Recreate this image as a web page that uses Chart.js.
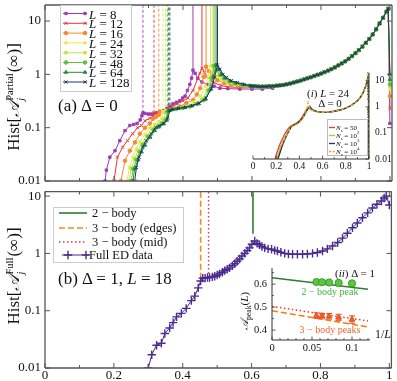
<!DOCTYPE html>
<html><head><meta charset="utf-8">
<script src="https://cdn.jsdelivr.net/npm/chart.js@4/dist/chart.umd.min.js"></script>
<style>
html,body{margin:0;padding:0;background:#fff;}
#wrap{position:relative;width:397px;height:381px;overflow:hidden;font-family:'Liberation Serif','DejaVu Serif',serif;color:#111;}
canvas{position:absolute;}
.t{position:absolute;white-space:nowrap;line-height:1;}
.c{transform:translate(-50%,-50%);}
.l{transform:translate(0,-50%);}
.rot{transform:translate(-50%,-50%) rotate(-90deg);}
.ss{display:inline-flex;flex-direction:column;vertical-align:middle;font-size:0.62em;line-height:1.05;margin:0 1px 0 0;}
.sc{font-family:'DejaVu Serif','DejaVu Sans',serif;font-style:italic;}
sub,sup{font-size:0.7em;line-height:0;}
</style></head>
<body>
<div id="wrap">
<canvas id="cTop" width="397" height="186" style="left:0;top:0"></canvas>
<canvas id="cBot" width="397" height="195" style="left:0;top:186px"></canvas>
<canvas id="cIn1" width="150" height="105" style="left:245px;top:65px"></canvas>
<canvas id="cIn2" width="135" height="100" style="left:240px;top:262px"></canvas>

<div class="t rot" style="left:15px;top:97px;font-size:17px">Hist[<span class="sc">𝒜</span><span class="ss"><span>Partial</span><span><i>j</i></span></span>(∞)]</div>
<div class="t rot" style="left:15px;top:276px;font-size:17px">Hist[<span class="sc">𝒜</span><span class="ss"><span>Full</span><span><i>j</i></span></span>(∞)]</div>
<div class="t l" style="left:58px;top:105px;font-size:17px">(a) Δ = 0</div>
<div class="t l" style="left:58px;top:278px;font-size:17px">(b) Δ = 1, <i>L</i> = 18</div>

<div class="t l" style="left:89px;top:13.5px;font-size:13px"><i>L</i> = 8</div>
<div class="t l" style="left:89px;top:23.3px;font-size:13px"><i>L</i> = 12</div>
<div class="t l" style="left:89px;top:33.1px;font-size:13px"><i>L</i> = 16</div>
<div class="t l" style="left:89px;top:42.9px;font-size:13px"><i>L</i> = 24</div>
<div class="t l" style="left:89px;top:52.7px;font-size:13px"><i>L</i> = 32</div>
<div class="t l" style="left:89px;top:62.5px;font-size:13px"><i>L</i> = 48</div>
<div class="t l" style="left:89px;top:72.3px;font-size:13px"><i>L</i> = 64</div>
<div class="t l" style="left:89px;top:82px;font-size:13px"><i>L</i> = 128</div>

<div class="t l" style="left:92px;top:213px;font-size:12.5px">2 − body</div>
<div class="t l" style="left:92px;top:228px;font-size:12.5px">3 − body (edges)</div>
<div class="t l" style="left:92px;top:242px;font-size:12.5px">3 − body (mid)</div>
<div class="t l" style="left:89px;top:255px;font-size:12.5px">Full ED data</div>

<div class="t c" style="left:328px;top:93px;font-size:11px">(<i>i</i>) <i>L</i> = 24</div>
<div class="t c" style="left:330px;top:102.5px;font-size:11px">Δ = 0</div>
<div class="t l" style="left:336px;top:127.5px;font-size:7px"><i>N</i><sub>s</sub> = 50</div>
<div class="t l" style="left:336px;top:135.5px;font-size:7px"><i>N</i><sub>s</sub> = 10<sup>2</sup></div>
<div class="t l" style="left:336px;top:143.5px;font-size:7px"><i>N</i><sub>s</sub> = 10<sup>3</sup></div>
<div class="t l" style="left:336px;top:151.5px;font-size:7px"><i>N</i><sub>s</sub> = 10<sup>4</sup></div>

<div class="t c" style="left:355px;top:273px;font-size:11px">(<i>ii</i>) Δ = 1</div>
<div class="t c" style="left:330px;top:292px;font-size:10px;color:#3cb43c">2 − body peak</div>
<div class="t c" style="left:330px;top:330px;font-size:10px;color:#f0642a">3 − body peaks</div>
<div class="t rot" style="left:244px;top:311px;font-size:11px"><span class="sc">𝒜</span><sub>peak</sub>(<i>L</i>)</div>
<div class="t c" style="left:383px;top:334px;font-size:12px">1/<i>L</i></div>
</div>

<script>
// ---------------- DATA ----------------
const LValues = [8, 12, 16, 24, 32, 48, 64, 128];
// panel (a): rising part and first peak for each L
const L8X = [0.174,0.178,0.188,0.203,0.217,0.232,0.246,0.257,0.267,0.276,0.281,0.284,0.29,0.299,0.306,0.313,0.323,0.333,0.344,0.354,0.362,0.371,0.381,0.391,0.399,0.406,0.413,0.42,0.425,0.429,0.435,0.443,0.455,0.47,0.49,0.507,0.53,0.565,0.6,0.63,0.66];
const L8Y = [0.01,0.016,0.028,0.037,0.057,0.088,0.11,0.115,0.12,0.14,0.167,0.19,0.185,0.18,0.18,0.18,0.19,0.2,0.21,0.23,0.25,0.28,0.3,0.32,0.36,0.39,0.5,0.65,0.85,1.2,1.05,0.84,0.72,0.65,0.6,0.55,0.54,0.53,0.53,0.53,0.55];
const L12X = [0.2,0.21,0.225,0.239,0.254,0.268,0.28,0.29,0.304,0.313,0.316,0.325,0.339,0.354,0.368,0.383,0.4,0.414,0.429,0.443,0.449,0.455,0.462,0.47,0.48,0.49,0.51,0.53,0.56,0.58];
const L12Y = [0.01,0.028,0.043,0.057,0.077,0.1,0.11,0.135,0.15,0.165,0.19,0.19,0.2,0.23,0.25,0.28,0.32,0.36,0.5,0.84,1.05,1.3,1.1,0.9,0.78,0.7,0.62,0.58,0.57,0.58];
const L16X = [0.22,0.232,0.246,0.261,0.275,0.29,0.304,0.313,0.322,0.33,0.333,0.345,0.36,0.375,0.391,0.41,0.429,0.44,0.45,0.46,0.467,0.475,0.485,0.5,0.52,0.54,0.56,0.58];
const L16Y = [0.01,0.024,0.037,0.053,0.077,0.1,0.12,0.147,0.16,0.175,0.2,0.2,0.21,0.23,0.25,0.29,0.33,0.42,0.55,0.9,1.4,1.15,0.95,0.78,0.68,0.63,0.61,0.6];
const L24X = [0.238,0.245,0.255,0.265,0.275,0.29,0.304,0.318,0.33,0.338,0.342,0.35,0.37,0.39,0.41,0.43,0.45,0.465,0.473,0.48,0.49,0.5,0.51,0.53,0.55,0.57,0.59];
const L24Y = [0.01,0.018,0.028,0.04,0.055,0.075,0.1,0.115,0.13,0.15,0.2,0.21,0.22,0.23,0.25,0.3,0.39,0.6,0.9,1.45,1.1,0.9,0.8,0.69,0.64,0.62,0.6];
const L32X = [0.244,0.25,0.26,0.27,0.28,0.295,0.31,0.323,0.335,0.345,0.35,0.36,0.375,0.395,0.415,0.435,0.455,0.47,0.48,0.487,0.495,0.505,0.515,0.53,0.55,0.57,0.59];
const L32Y = [0.01,0.017,0.026,0.037,0.05,0.07,0.095,0.11,0.125,0.145,0.2,0.21,0.22,0.23,0.25,0.28,0.34,0.5,0.85,1.45,1.15,0.95,0.82,0.72,0.66,0.63,0.61];
const L48X = [0.25,0.256,0.265,0.275,0.285,0.3,0.315,0.328,0.34,0.35,0.355,0.365,0.38,0.4,0.42,0.44,0.46,0.475,0.484,0.49,0.498,0.508,0.52,0.535,0.55,0.57,0.59];
const L48Y = [0.01,0.017,0.025,0.035,0.048,0.068,0.09,0.105,0.12,0.14,0.2,0.215,0.225,0.235,0.25,0.28,0.33,0.5,0.85,1.45,1.2,0.98,0.84,0.74,0.68,0.64,0.61];
const L64X = [0.255,0.26,0.27,0.28,0.29,0.305,0.318,0.33,0.343,0.353,0.358,0.368,0.385,0.405,0.425,0.445,0.465,0.48,0.489,0.496,0.503,0.512,0.522,0.538,0.555,0.575,0.595];
const L64Y = [0.01,0.017,0.025,0.035,0.047,0.066,0.088,0.103,0.118,0.138,0.21,0.22,0.23,0.24,0.255,0.28,0.34,0.52,0.9,1.5,1.25,1.0,0.86,0.75,0.69,0.64,0.61];
const L128X = [0.26,0.265,0.273,0.283,0.293,0.308,0.32,0.333,0.345,0.356,0.362,0.37,0.387,0.407,0.427,0.447,0.467,0.483,0.492,0.5,0.507,0.516,0.526,0.54,0.558,0.578,0.598];
const L128Y = [0.01,0.018,0.028,0.043,0.057,0.077,0.1,0.11,0.12,0.15,0.21,0.22,0.23,0.24,0.26,0.29,0.36,0.55,0.9,1.5,1.25,1.0,0.88,0.76,0.7,0.65,0.61];
// common U-shaped tail (all L coincide)
const tailX = [0.6,0.61,0.62,0.63,0.64,0.65,0.66,0.67,0.68,0.69,0.7,0.71,0.72,0.73,0.74,0.75,0.76,0.77,0.78,0.79,0.8,0.81,0.82,0.83,0.84,0.85,0.86,0.87,0.88,0.89,0.9,0.91,0.92,0.93,0.94,0.95,0.96,0.97,0.98,0.99,0.995];
const tailY = [0.6,0.6,0.59,0.59,0.59,0.6,0.6,0.61,0.62,0.63,0.65,0.67,0.7,0.73,0.76,0.8,0.84,0.88,0.93,0.98,1.03,1.1,1.17,1.25,1.35,1.47,1.6,1.75,1.95,2.2,2.5,2.85,3.3,3.9,4.6,5.6,7,9,11.5,15,17];
const endX = 1.0;
const endY = [0.12,0.23,0.39,0.52,0.6,0.65,0.8,1.0];
// vertical lines (delta peaks) in panel (a)
const dashX = [0.284,0.316,0.33,0.342,0.35,0.355,0.358,0.362];
const dashY = [0.19,0.19,0.2,0.2,0.2,0.2,0.21,0.21];
const peakX = [0.429,0.455,0.467,0.48,0.487,0.49,0.496,0.5];
const peakY = [1.2,1.3,1.4,1.45,1.45,1.45,1.5,1.5];

// panel (b): full ED data, Delta=1, L=18
const fullX = [0.30,0.31,0.324,0.338,0.348,0.362,0.372,0.382,0.396,0.41,0.425,0.435,0.445,0.452,0.458,0.465,0.472,0.478,0.486,0.493,0.5,0.507,0.515,0.522,0.529,0.536,0.544,0.551,0.558,0.565,0.572,0.58,0.587,0.594,0.601,0.609,0.616,0.623,0.63,0.638,0.648,0.658,0.667,0.675,0.685,0.696,0.707,0.719,0.733,0.748,0.762,0.777,0.791,0.806,0.82,0.835,0.85,0.864,0.878,0.893,0.907,0.922,0.937,0.951,0.964,0.977,0.985,0.991,1.0];
const fullY = [0.01,0.017,0.025,0.027,0.04,0.05,0.062,0.078,0.09,0.11,0.15,0.18,0.25,0.33,0.37,0.37,0.38,0.38,0.39,0.4,0.42,0.44,0.47,0.5,0.53,0.56,0.61,0.66,0.73,0.8,0.9,1.0,1.12,1.25,1.45,1.65,1.5,1.42,1.32,1.25,1.2,1.18,1.13,1.1,1.05,1.0,0.98,0.97,0.97,0.97,0.98,1.0,1.04,1.1,1.2,1.35,1.55,1.85,2.25,2.8,3.4,4.2,5.1,6.2,7.2,8.2,9.3,10,7];
const twoBodyX = 0.604, twoBodyY = 2.2;
const edgeX = 0.452, edgeY = 0.36;
const midX = 0.475, midY = 0.38;

// inset (i): L=24 for several N_s
const ns50X = [0.19,0.21,0.23,0.25,0.27,0.29,0.31,0.33,0.35,0.37,0.39,0.41,0.43,0.45,0.465,0.48,0.5,0.52,0.55];
const ns50Y = [0.01,0.02,0.035,0.055,0.085,0.12,0.16,0.19,0.21,0.23,0.27,0.33,0.45,0.65,0.85,0.9,0.8,0.72,0.66];
const ns100X = [0.205,0.22,0.24,0.26,0.28,0.3,0.32,0.34,0.36,0.38,0.4,0.42,0.44,0.46,0.475,0.49,0.5,0.52,0.55];
const ns100Y = [0.01,0.016,0.03,0.048,0.075,0.11,0.15,0.19,0.21,0.22,0.26,0.32,0.45,0.7,0.95,0.92,0.82,0.72,0.66];
const ns1000X = [0.215,0.23,0.25,0.27,0.29,0.31,0.33,0.35,0.37,0.39,0.41,0.43,0.45,0.47,0.49,0.5,0.52,0.55];
const ns1000Y = [0.01,0.016,0.03,0.05,0.08,0.12,0.17,0.2,0.22,0.25,0.3,0.4,0.55,0.8,1.05,0.9,0.75,0.67];
const ns10000X = [0.2,0.22,0.24,0.26,0.28,0.3,0.32,0.34,0.36,0.38,0.4,0.42,0.44,0.455,0.465,0.475,0.485,0.5,0.52,0.55];
const ns10000Y = [0.01,0.018,0.03,0.045,0.07,0.1,0.14,0.18,0.2,0.22,0.26,0.32,0.45,0.6,0.9,1.45,0.95,0.8,0.72,0.66];
const insetTailX = [0.6,0.65,0.7,0.75,0.8,0.85,0.9,0.93,0.95,0.97,0.98,0.99,0.995,0.999];
const insetTailY = [0.62,0.63,0.68,0.76,0.9,1.15,1.7,2.5,3.6,6,8.5,13,17,0.01];

// inset (ii): peak positions vs 1/L
const invL = [0.0556,0.0625,0.0714,0.0833,0.1];
const peak2 = [0.609,0.608,0.607,0.605,0.603];
const peak2Err = [0.006,0.006,0.006,0.006,0.006];
const peak3 = [0.463,0.461,0.46,0.455,0.446];
const peak3Err = [0.012,0.012,0.012,0.014,0.016];
const fitX = [0, 0.12];
const fit2Y = [0.628, 0.578];
const fitMidY = [0.503, 0.44];
const fitEdgeY = [0.484, 0.414];

// tick labels
const mainXTicks = [0, 0.2, 0.4, 0.6, 0.8, 1];
const mainXMinor = [0.1, 0.3, 0.5, 0.7, 0.9];
const logTicks = [0.01, 0.1, 1, 10];
const in2XTicks = [0, 0.05, 0.1];
const in2YTicks = [0.4, 0.5, 0.6];

// ---------------- RENDERING ----------------
const serif = "'Liberation Serif','Times New Roman',serif";
Chart.defaults.font.family = serif;
Chart.defaults.color = '#111';

const pts = (xs, ys) => { const n = Math.min(xs.length, ys.length), o = []; for (let i = 0; i < n; i++) o.push({x: xs[i], y: ys[i]}); return o; };
const noPad = s => { s.paddingLeft = 0; s.paddingRight = 0; s.paddingTop = 0; s.paddingBottom = 0; };
const logMinor = [];
[0.01, 0.1, 1, 10].forEach(d => { for (let k = 2; k <= 9; k++) { const v = +(d * k).toPrecision(3); if (v <= 20) logMinor.push(v); } });

const frameTicks = {
  id: 'frameTicks',
  afterDatasetsDraw(chart, args, o) {
    if (!o || !o.lines) return;
    const {ctx, chartArea: a} = chart; const sx = chart.scales.x, sy = chart.scales.y;
    ctx.save(); ctx.setLineDash([]); ctx.strokeStyle = o.color;
    ctx.lineWidth = o.tickWidth; ctx.beginPath();
    const xt = (vals, len) => vals.forEach(v => { const p = sx.getPixelForValue(v);
      if (o.xSides.includes('bottom')) { ctx.moveTo(p, a.bottom); ctx.lineTo(p, a.bottom - len); }
      if (o.xSides.includes('top')) { ctx.moveTo(p, a.top); ctx.lineTo(p, a.top + len); } });
    const yt = (vals, len) => vals.forEach(v => { const p = sy.getPixelForValue(v);
      if (o.ySides.includes('left')) { ctx.moveTo(a.left, p); ctx.lineTo(a.left + len, p); }
      if (o.ySides.includes('right')) { ctx.moveTo(a.right, p); ctx.lineTo(a.right - len, p); } });
    xt(o.xMajor || [], o.majLen); xt(o.xMinor || [], o.minLen);
    yt(o.yMajor || [], o.majLen); yt(o.yMinor || [], o.minLen);
    ctx.stroke();
    ctx.lineWidth = o.lineWidth; ctx.beginPath();
    o.lines.forEach(s => {
      if (s === 'left') { ctx.moveTo(a.left, a.top); ctx.lineTo(a.left, a.bottom); }
      if (s === 'right') { ctx.moveTo(a.right, a.top); ctx.lineTo(a.right, a.bottom); }
      if (s === 'top') { ctx.moveTo(a.left, a.top); ctx.lineTo(a.right, a.top); }
      if (s === 'bottom') { ctx.moveTo(a.left, a.bottom); ctx.lineTo(a.right, a.bottom); }
    });
    ctx.stroke(); ctx.restore();
  }
};

const legendSamples = {
  id: 'legendSamples',
  afterDraw(chart, args, o) {
    if (!o || !o.items) return;
    const ctx = chart.ctx; ctx.save();
    if (o.box) { ctx.setLineDash([]); ctx.fillStyle = '#fff'; ctx.strokeStyle = o.boxColor || '#ccc'; ctx.lineWidth = 1;
      ctx.fillRect(o.box[0], o.box[1], o.box[2], o.box[3]); ctx.strokeRect(o.box[0], o.box[1], o.box[2], o.box[3]); }
    o.items.forEach(it => {
      ctx.strokeStyle = it.color; ctx.lineWidth = it.width || 1; ctx.setLineDash(it.dash || []);
      ctx.beginPath(); ctx.moveTo(it.x0, it.y); ctx.lineTo(it.x1, it.y); ctx.stroke();
      ctx.setLineDash([]);
      (it.markers || []).forEach(mx => {
        ctx.fillStyle = it.color; ctx.strokeStyle = it.color; ctx.lineWidth = it.mw || 1;
        Chart.helpers.drawPoint(ctx, {pointStyle: it.ps, radius: it.r, borderWidth: it.mw || 1, rotation: 0}, mx, it.y);
      });
    });
    ctx.restore();
  }
};

const base = { responsive: false, animation: false, devicePixelRatio: 1, events: [] };
const hideAxis = { grid: {display: false, drawTicks: false}, border: {display: false} };

// ---- panel (a)
const topColors = ['#9b3db5', '#e8363c', '#f5892c', '#f2e458', '#bfe84a', '#5ac63c', '#2a8a3c', '#1f3566'];
const topMarkers = ['rect', 'crossRot', 'circle', 'rect', 'rect', 'circle', 'triangle', 'crossRot'];
const topRadii = [1.7, 2.2, 1.8, 1.6, 1.8, 1.8, 2.0, 2.2];
const topHeads = [[L8X, L8Y], [L12X, L12Y], [L16X, L16Y], [L24X, L24Y], [L32X, L32Y], [L48X, L48Y], [L64X, L64Y], [L128X, L128Y]];
const TOP_MAX = 20;
const topDatasets = [];
topHeads.forEach(([hx, hy], i) => {
  const lastX = hx[hx.length - 1];
  const data = pts(hx, hy).concat(pts(tailX, tailY).filter(p => p.x > lastX), [{x: endX, y: endY[i]}]);
  topDatasets.push({ label: 'L=' + LValues[i], data, borderColor: topColors[i], backgroundColor: topColors[i],
    borderWidth: 1, pointStyle: topMarkers[i], pointRadius: topRadii[i], pointBorderWidth: 1, order: 8 - i });
  topDatasets.push({ data: [{x: dashX[i], y: dashY[i]}, {x: dashX[i], y: TOP_MAX}], borderColor: topColors[i],
    borderWidth: 0.9, borderDash: [3, 2], pointRadius: 0, order: 30 });
  topDatasets.push({ data: [{x: peakX[i], y: peakY[i]}, {x: peakX[i], y: TOP_MAX}], borderColor: topColors[i],
    borderWidth: 1, pointRadius: 0, order: 30 });
});
const legRows = [13.5, 23.3, 33.1, 42.9, 52.7, 62.5, 72.3, 82];

new Chart(document.getElementById('cTop'), {
  type: 'line',
  data: { datasets: topDatasets },
  options: Object.assign({}, base, {
    layout: { padding: {left: 0, top: 3, right: 5, bottom: 5} },
    plugins: { legend: {display: false}, tooltip: {enabled: false},
      frameTicks: { lines: ['left', 'right', 'top', 'bottom'], color: '#555', lineWidth: 1.3, tickWidth: 1,
        xSides: ['bottom', 'top'], ySides: ['left', 'right'], xMajor: mainXTicks, xMinor: mainXMinor, yMajor: logTicks, majLen: 5, minLen: 3 },
      legendSamples: { box: [60.5, 5.5, 71, 86],
        items: LValues.map((l, i) => ({ y: legRows[i], x0: 63, x1: 87, color: topColors[i], width: 1, ps: topMarkers[i], r: topRadii[i], markers: [66, 85] })) } },
    scales: {
      x: { type: 'linear', min: 0, max: 1.006, bounds: 'data', display: false },
      y: Object.assign({ type: 'logarithmic', min: 0.01, max: TOP_MAX, bounds: 'data', position: 'left',
        afterBuildTicks: s => { s.ticks = logTicks.map(v => ({value: v})); },
        afterFit: s => { s.width = 45; noPad(s); },
        ticks: { callback: v => String(v), font: {size: 13}, color: '#111', padding: 4, autoSkip: false } }, hideAxis)
    }
  }),
  plugins: [frameTicks, legendSamples]
});

// ---- panel (b)
const BOT_MAX = 12;
const edColor = '#4b2a8f';
new Chart(document.getElementById('cBot'), {
  type: 'line',
  data: { datasets: [
    { label: 'Full ED data', data: pts(fullX, fullY), borderColor: edColor, backgroundColor: edColor, borderWidth: 1,
      pointStyle: 'cross', pointRadius: 4.2, pointBorderWidth: 1.4, order: 1 },
    { label: '2 - body', data: [{x: twoBodyX, y: twoBodyY}, {x: twoBodyX, y: BOT_MAX}], borderColor: '#2e7d32', borderWidth: 1.6, pointRadius: 0, order: 2 },
    { label: '3 - body (edges)', data: [{x: edgeX, y: edgeY}, {x: edgeX, y: BOT_MAX}], borderColor: '#f5891f', borderWidth: 1.6, borderDash: [6, 3], pointRadius: 0, order: 2 },
    { label: '3 - body (mid)', data: [{x: midX, y: midY}, {x: midX, y: BOT_MAX}], borderColor: '#e53935', borderWidth: 1.4, borderDash: [1.5, 2.5], pointRadius: 0, order: 2 }
  ] },
  options: Object.assign({}, base, {
    layout: { padding: {left: 0, top: 4, right: 5, bottom: 0} },
    plugins: { legend: {display: false}, tooltip: {enabled: false},
      frameTicks: { lines: ['left', 'right', 'top', 'bottom'], color: '#555', lineWidth: 1.3, tickWidth: 1,
        xSides: ['bottom', 'top'], ySides: ['left', 'right'], xMajor: mainXTicks, xMinor: mainXMinor, yMajor: logTicks, majLen: 5, minLen: 3 },
      legendSamples: { box: [53.5, 21.5, 130, 55], items: [
        { y: 27, x0: 59, x1: 87, color: '#2e7d32', width: 1.6 },
        { y: 42, x0: 59, x1: 87, color: '#f5891f', width: 1.6, dash: [6, 3] },
        { y: 56, x0: 59, x1: 87, color: '#e53935', width: 1.4, dash: [1.5, 2.5] },
        { y: 69, x0: 62, x1: 89, color: edColor, width: 1, ps: 'cross', r: 4.2, mw: 1.4, markers: [68, 86] } ] } },
    scales: {
      x: Object.assign({ type: 'linear', min: 0, max: 1.006, bounds: 'data', position: 'bottom',
        afterBuildTicks: s => { s.ticks = mainXTicks.map(v => ({value: v})); },
        afterFit: s => { s.height = 13; noPad(s); },
        ticks: { callback: v => String(v), font: {size: 13, lineHeight: 1.1}, color: '#111', padding: 0, autoSkip: false, maxRotation: 0, minRotation: 0 } }, hideAxis),
      y: Object.assign({ type: 'logarithmic', min: 0.01, max: BOT_MAX, bounds: 'data', position: 'left',
        afterBuildTicks: s => { s.ticks = logTicks.map(v => ({value: v})); },
        afterFit: s => { s.width = 45; noPad(s); },
        ticks: { callback: v => String(v), font: {size: 13}, color: '#111', padding: 4, autoSkip: false } }, hideAxis)
    }
  }),
  plugins: [frameTicks, legendSamples]
});

// ---- inset (i)
const nsColors = ['#ee3b3b', '#7ee02e', '#1d3a5c', '#f5a020'];
const nsHeads = [[ns50X, ns50Y], [ns100X, ns100Y], [ns1000X, ns1000Y], [ns10000X, ns10000Y]];
const in1Datasets = nsHeads.map(([hx, hy], i) => {
  const lastX = hx[hx.length - 1];
  return { data: pts(hx, hy).concat(pts(insetTailX, insetTailY).filter(p => p.x > lastX)),
    borderColor: nsColors[i], borderWidth: 1.3, borderDash: i === 3 ? [3, 2] : [], pointRadius: 0, order: 4 - i };
});
new Chart(document.getElementById('cIn1'), {
  type: 'line',
  data: { datasets: in1Datasets },
  options: Object.assign({}, base, {
    layout: { padding: {left: 8, top: 8, right: 0, bottom: 0} },
    plugins: { legend: {display: false}, tooltip: {enabled: false},
      frameTicks: { lines: ['right', 'bottom'], color: '#333', lineWidth: 1, tickWidth: 0.8,
        xSides: ['bottom'], ySides: ['right'], xMajor: [0, 0.2, 0.4, 0.6, 0.8, 1], xMinor: [0.1, 0.3, 0.5, 0.7, 0.9], yMajor: logTicks, yMinor: logMinor, majLen: 3.5, minLen: 2 },
      legendSamples: { box: [82.5, 54.5, 40, 36], boxColor: '#bbb', items: nsColors.map((c, i) => ({ y: 62.5 + 8 * i, x0: 84, x1: 90, color: c, width: 1.3, dash: i === 3 ? [2, 1.5] : [] })) } },
    scales: {
      x: Object.assign({ type: 'linear', min: 0, max: 1, bounds: 'data', position: 'bottom',
        afterBuildTicks: s => { s.ticks = [0, 0.2, 0.4, 0.6, 0.8, 1].map(v => ({value: v})); },
        afterFit: s => { s.height = 11; noPad(s); },
        ticks: { callback: v => String(v), font: {size: 9.5}, color: '#111', padding: 2, autoSkip: false, maxRotation: 0, minRotation: 0 } }, hideAxis),
      y: Object.assign({ type: 'logarithmic', min: 0.01, max: 20, bounds: 'data', position: 'right',
        afterBuildTicks: s => { s.ticks = logTicks.map(v => ({value: v})); },
        afterFit: s => { s.width = 26; noPad(s); },
        ticks: { callback: v => String(v), font: {size: 9.5}, color: '#111', padding: 6, autoSkip: false } }, hideAxis)
    }
  }),
  plugins: [frameTicks, legendSamples]
});

// ---- inset (ii)
const errData = (xs, ys, es) => { const o = []; xs.forEach((x, i) => { o.push({x, y: ys[i] - es[i]}, {x, y: ys[i] + es[i]}, {x, y: null}); }); return o; };
new Chart(document.getElementById('cIn2'), {
  type: 'line',
  data: { datasets: [
    { data: pts(fitX, fit2Y), borderColor: '#2e7d32', borderWidth: 1.5, pointRadius: 0, order: 5 },
    { data: pts(fitX, fitMidY), borderColor: '#e53935', borderWidth: 1.5, borderDash: [1.5, 2.5], pointRadius: 0, order: 5 },
    { data: pts(fitX, fitEdgeY), borderColor: '#f57c00', borderWidth: 1.5, borderDash: [6, 3], pointRadius: 0, order: 5 },
    { data: errData(invL, peak2, peak2Err), borderColor: '#3a9a2a', borderWidth: 1, spanGaps: false, pointStyle: 'line', pointRadius: 2.5, pointBorderWidth: 1, pointBorderColor: '#3a9a2a', order: 3 },
    { data: errData(invL, peak3, peak3Err), borderColor: '#e8501e', borderWidth: 1, spanGaps: false, pointStyle: 'line', pointRadius: 3, pointBorderWidth: 1, pointBorderColor: '#e8501e', order: 3 },
    { data: pts(invL, peak2), showLine: false, pointStyle: 'circle', pointRadius: 3.6, backgroundColor: '#5ac83a', pointBorderColor: '#3a9a2a', pointBorderWidth: 1, order: 1 },
    { data: pts(invL, peak3), showLine: false, pointStyle: 'triangle', pointRadius: 3.4, backgroundColor: '#f4601e', pointBorderColor: '#e8501e', pointBorderWidth: 1, order: 1 }
  ] },
  options: Object.assign({}, base, {
    layout: { padding: {left: 0, top: 6, right: 5, bottom: 0} },
    plugins: { legend: {display: false}, tooltip: {enabled: false},
      frameTicks: { lines: ['left', 'bottom'], color: '#333', lineWidth: 1, tickWidth: 0.8,
        xSides: ['bottom'], ySides: ['left'], xMajor: in2XTicks, xMinor: [0.01, 0.02, 0.03, 0.04, 0.06, 0.07, 0.08, 0.09, 0.11, 0.12],
        yMajor: in2YTicks, yMinor: [0.45, 0.55, 0.65], majLen: 3.5, minLen: 2 } },
    scales: {
      x: Object.assign({ type: 'linear', min: 0, max: 0.1225, bounds: 'data', position: 'bottom',
        afterBuildTicks: s => { s.ticks = in2XTicks.map(v => ({value: v})); },
        afterFit: s => { s.height = 22; noPad(s); },
        ticks: { callback: v => String(v), font: {size: 10.5}, color: '#111', padding: 2, autoSkip: false, maxRotation: 0, minRotation: 0 } }, hideAxis),
      y: Object.assign({ type: 'linear', min: 0.357, max: 0.67, bounds: 'data', position: 'left',
        afterBuildTicks: s => { s.ticks = in2YTicks.map(v => ({value: v})); },
        afterFit: s => { s.width = 32; noPad(s); },
        ticks: { callback: v => String(v), font: {size: 10.5}, color: '#111', padding: 5, autoSkip: false } }, hideAxis)
    }
  }),
  plugins: [frameTicks]
});
</script>
</body></html>
